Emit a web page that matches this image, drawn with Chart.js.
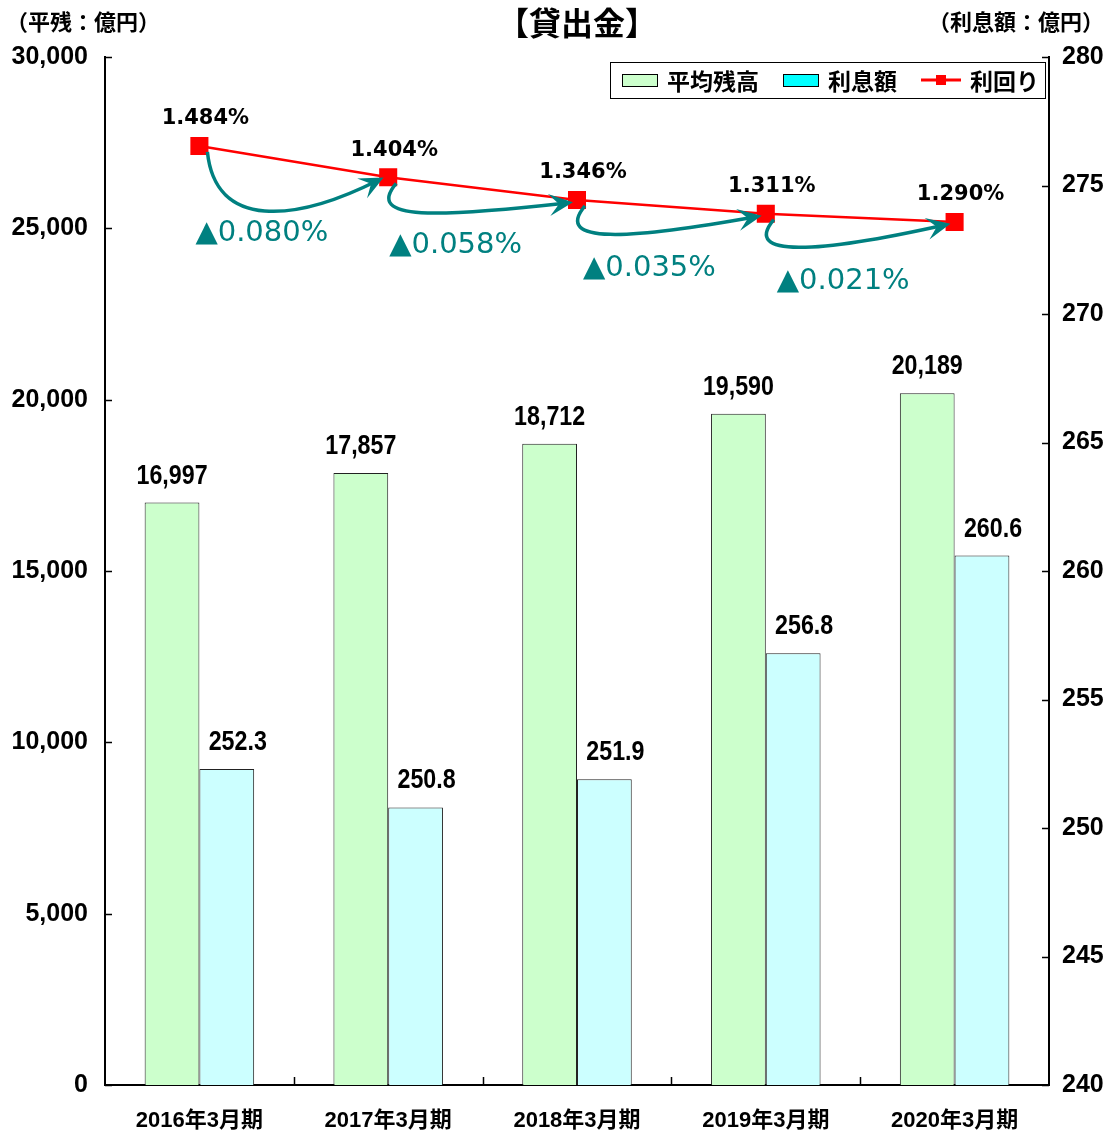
<!DOCTYPE html>
<html>
<head>
<meta charset="utf-8">
<script src="https://cdn.jsdelivr.net/npm/chart.js@4.4.0/dist/chart.umd.min.js"></script>
<style>
  html, body { margin: 0; padding: 0; background: #fff; }
  #wrap { width: 1105px; height: 1136px; }
</style>
</head>
<body>
<div id="wrap"><canvas id="chartLoan"></canvas></div>
<script>
// --- DATA ---
const categories = ['2016年3月期', '2017年3月期', '2018年3月期', '2019年3月期', '2020年3月期'];
const balance = [16997, 17857, 18712, 19590, 20189];      // 平均残高 (億円)
const interest = [252.3, 250.8, 251.9, 256.8, 260.6];     // 利息額 (億円)
const yieldRate = [1.484, 1.404, 1.346, 1.311, 1.290];    // 利回り (%)
const yieldDrop = ['▲0.080%', '▲0.058%', '▲0.035%', '▲0.021%'];
const leftTicks = [0, 5000, 10000, 15000, 20000, 25000, 30000];
const rightTicks = [240, 245, 250, 255, 260, 265, 270, 275, 280];

const NUM = "'Liberation Sans', Arial, 'Noto Sans CJK JP', sans-serif";
const JP = "'Noto Sans CJK JP', sans-serif";
const RATE = "'DejaVu Sans', Verdana, sans-serif";
const TEAL = '#008080';

// narrow-looking text: draw a larger font squeezed horizontally
function narrowText(ctx, text, x, y, sx) {
    ctx.save();
    ctx.translate(x, y);
    ctx.scale(sx, 1);
    ctx.fillText(text, 0, 0);
    ctx.restore();
}

const decor = {
    id: 'decor',
    afterDatasetsDraw(chart) {
        const { ctx, chartArea: ca, scales } = chart;
        ctx.save();

        // inner tick marks
        ctx.strokeStyle = '#000';
        ctx.lineWidth = 1.5;
        ctx.beginPath();
        leftTicks.forEach(v => {
            const y = Math.round(scales.y.getPixelForValue(v)) + 0.5;
            ctx.moveTo(ca.left, y); ctx.lineTo(ca.left + 7, y);
        });
        rightTicks.forEach(v => {
            const y = Math.round(scales.y1.getPixelForValue(v)) + 0.5;
            ctx.moveTo(ca.right - 7, y); ctx.lineTo(ca.right, y);
        });
        const step = (ca.right - ca.left) / categories.length;
        for (let i = 1; i < categories.length; i++) {
            const x = Math.round(ca.left + step * i) + 0.5;
            ctx.moveTo(x, ca.bottom); ctx.lineTo(x, ca.bottom - 8);
        }
        ctx.stroke();

        // bar value labels
        ctx.fillStyle = '#000';
        ctx.textAlign = 'center';
        ctx.textBaseline = 'alphabetic';
        ctx.font = `bold 28px ${NUM}`;
        chart.getDatasetMeta(0).data.forEach((el, i) => {
            narrowText(ctx, balance[i].toLocaleString('en-US'), el.x, el.y - 19, 0.83);
        });
        chart.getDatasetMeta(1).data.forEach((el, i) => {
            narrowText(ctx, interest[i].toFixed(1), el.x + 11, el.y - 19, 0.83);
        });

        // rate labels + arrows
        const pts = chart.getDatasetMeta(2).data;
        ctx.font = `bold 21px ${RATE}`;
        ctx.textBaseline = 'middle';
        pts.forEach((p, i) => {
            ctx.fillText(yieldRate[i].toFixed(3) + '%', p.x + 6, p.y - 27);
        });

        ctx.strokeStyle = TEAL;
        ctx.fillStyle = TEAL;
        ctx.lineWidth = 3.5;
        for (let i = 0; i < pts.length - 1; i++) {
            const a = pts[i], b = pts[i + 1];
            const deep = i === 0;
            const p0 = { x: a.x + 8, y: a.y + 6 };
            const c1 = deep ? { x: a.x + 16, y: a.y + 84 } : { x: a.x - 24, y: a.y + 44 };
            const c2 = deep ? { x: a.x + 96, y: a.y + 76 } : { x: a.x + 50, y: a.y + 40 };
            const p3 = { x: b.x - 10, y: b.y + 3 };
            ctx.beginPath();
            ctx.moveTo(p0.x, p0.y);
            ctx.bezierCurveTo(c1.x, c1.y, c2.x, c2.y, p3.x, p3.y);
            ctx.stroke();
            // arrow head
            let dx = p3.x - c2.x, dy = p3.y - c2.y;
            const len = Math.hypot(dx, dy); dx /= len; dy /= len;
            const nx = -dy, ny = dx;
            const tx = p3.x + dx * 6, ty = p3.y + dy * 6;
            ctx.beginPath();
            ctx.moveTo(tx, ty);
            ctx.lineTo(tx - dx * 24 + nx * 11, ty - dy * 24 + ny * 11);
            ctx.lineTo(tx - dx * 14, ty - dy * 14);
            ctx.lineTo(tx - dx * 24 - nx * 11, ty - dy * 24 - ny * 11);
            ctx.closePath();
            ctx.fill();

            ctx.font = `29px ${RATE}`;
            ctx.textAlign = 'left';
            ctx.fillText(yieldDrop[i], a.x - 4 + i * 5, a.y + (deep ? 88 : 68));
        }

        ctx.restore();
    },
    afterDraw(chart) {
        const { ctx, chartArea: ca } = chart;
        ctx.save();
        ctx.fillStyle = '#000';
        ctx.textBaseline = 'middle';
        ctx.textAlign = 'center';
        ctx.font = `bold 32px ${JP}`;
        ctx.fillText('【貸出金】', (ca.left + ca.right) / 2, 23);
        ctx.font = `bold 22px ${JP}`;
        ctx.textAlign = 'left';
        ctx.fillText('（平残：億円）', 6, 22);
        ctx.textAlign = 'right';
        ctx.fillText('（利息額：億円）', 1104, 22);

        // legend (drawn from dataset styles)
        const ds = chart.data.datasets;
        ctx.font = `bold 23px ${JP}`;
        const markW = [36, 36, 40];
        let total = 12;
        ds.forEach((d, i) => { total += markW[i] + 9 + ctx.measureText(d.label).width + (i < ds.length - 1 ? 24 : 6); });
        const right = ca.right - 4, top = ca.top + 5, h = 36, cy = top + h / 2;
        const left = right - total;
        ctx.fillStyle = '#fff';
        ctx.fillRect(left, top, total, h);
        ctx.strokeStyle = '#000';
        ctx.lineWidth = 1;
        ctx.strokeRect(Math.round(left) + 0.5, Math.round(top) + 0.5, Math.round(total), h);
        let x = left + 12;
        ds.forEach((d, i) => {
            if (d.type === 'bar') {
                ctx.fillStyle = i === 1 ? '#00ffff' : d.backgroundColor;
                ctx.fillRect(x, cy - 6, 36, 13);
                ctx.strokeStyle = '#000';
                ctx.strokeRect(Math.round(x) + 0.5, Math.round(cy - 6) + 0.5, 35, 12);
            } else {
                ctx.strokeStyle = d.borderColor;
                ctx.lineWidth = 3;
                ctx.beginPath(); ctx.moveTo(x, cy); ctx.lineTo(x + 40, cy); ctx.stroke();
                ctx.lineWidth = 1;
                ctx.fillStyle = d.borderColor;
                ctx.fillRect(x + 15, cy - 5, 10, 10);
            }
            x += markW[i] + 9;
            ctx.fillStyle = '#000';
            ctx.textAlign = 'left';
            ctx.fillText(d.label, x, cy + 1);
            x += ctx.measureText(d.label).width + 24;
        });
        ctx.restore();
    }
};

new Chart(document.getElementById('chartLoan'), {
    data: {
        labels: categories,
        datasets: [
            {
                type: 'bar', label: '平均残高', data: balance, yAxisID: 'y',
                backgroundColor: '#ccffcc', borderColor: '#222', borderWidth: 1,
                categoryPercentage: 0.58, barPercentage: 1.0, order: 2
            },
            {
                type: 'bar', label: '利息額', data: interest, yAxisID: 'y1',
                backgroundColor: '#ccffff', borderColor: '#222', borderWidth: 1,
                categoryPercentage: 0.58, barPercentage: 1.0, order: 2
            },
            {
                type: 'line', label: '利回り', data: yieldRate, yAxisID: 'yRate',
                borderColor: '#ff0000', borderWidth: 2.5, backgroundColor: '#ff0000',
                pointStyle: 'rect', pointRadius: 11, pointHoverRadius: 11,
                tension: 0, order: 1
            }
        ]
    },
    options: {
        responsive: true,
        maintainAspectRatio: false,
        animation: false,
        layout: { padding: { top: 57, left: 0, right: 0, bottom: 0 } },
        plugins: {
            tooltip: { enabled: false },
            legend: { display: false }
        },
        scales: {
            x: {
                grid: { display: false, drawTicks: false },
                border: { display: true, color: '#000', width: 2 },
                ticks: { color: '#000', padding: 23, font: { family: NUM, size: 22, weight: 'bold' } },
                afterFit: (s) => { s.height = 51; }
            },
            y: {
                position: 'left',
                min: 0, max: 30000,
                afterBuildTicks: (s) => { s.ticks = leftTicks.map(v => ({ value: v })); },
                grid: { display: false, drawTicks: false },
                border: { display: true, color: '#000', width: 2 },
                ticks: {
                    color: '#000', padding: 17,
                    font: { family: NUM, size: 25, weight: 'bold' },
                    callback: (v) => Number(v).toLocaleString('en-US')
                },
                afterFit: (s) => { s.width = 105; }
            },
            y1: {
                position: 'right',
                min: 240, max: 280,
                afterBuildTicks: (s) => { s.ticks = rightTicks.map(v => ({ value: v })); },
                grid: { display: false, drawTicks: false },
                border: { display: true, color: '#000', width: 2 },
                ticks: { color: '#000', padding: 13, font: { family: NUM, size: 25, weight: 'bold' } },
                afterFit: (s) => { s.width = 56; }
            },
            yRate: {
                display: false,
                min: -0.913, max: 1.711
            }
        }
    },
    plugins: [decor]
});
</script>
</body>
</html>
